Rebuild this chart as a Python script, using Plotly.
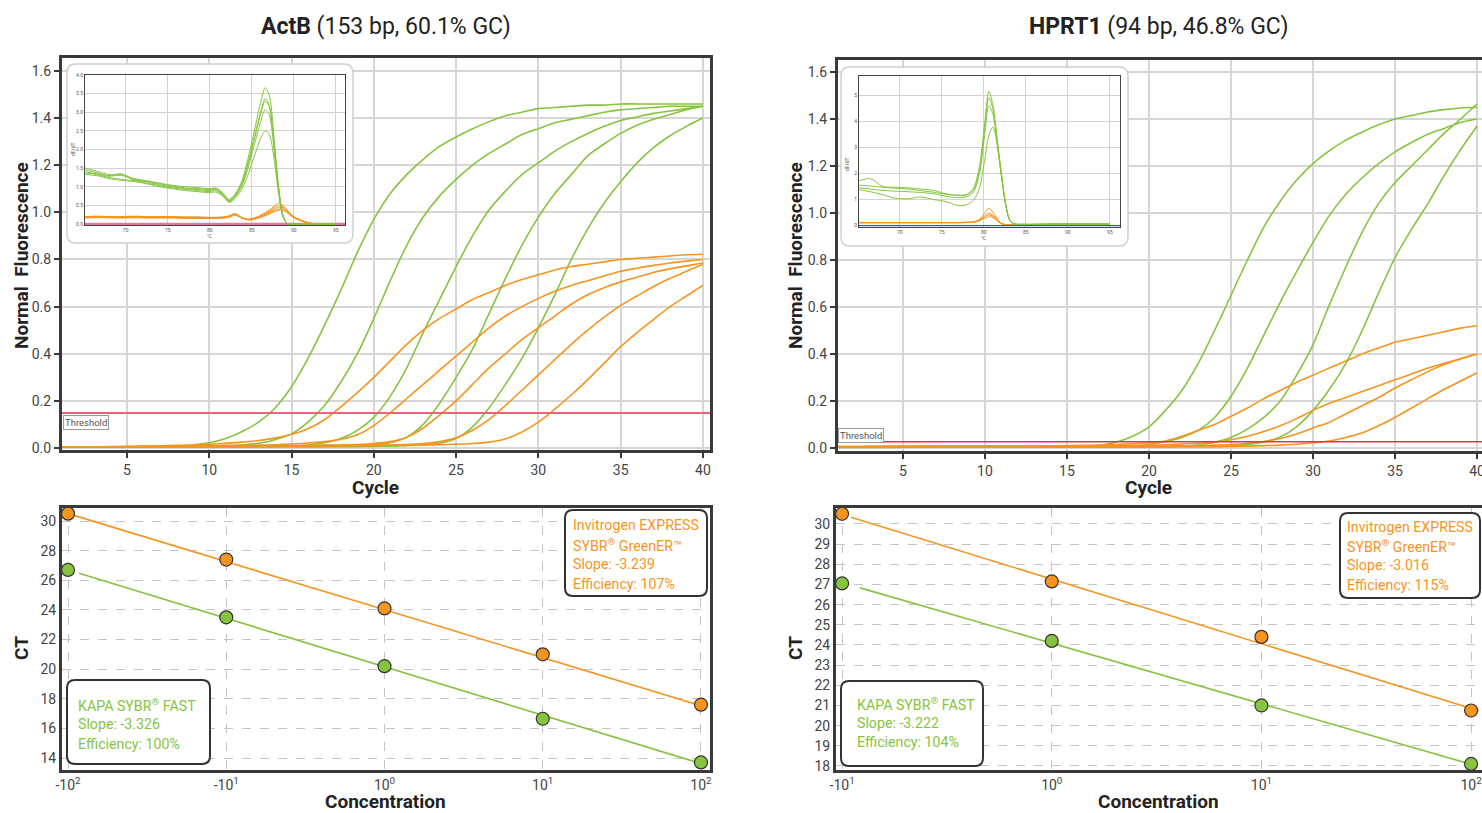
import plotly.graph_objects as go

W, H = 1482, 813

# ---------------- DATA ----------------
cycles = list(range(1, 41))

# ActB amplification curves (normalized fluorescence per cycle)
actb_kapa = [
    [0.003,0.003,0.004,0.004,0.005,0.006,0.007,0.009,0.013,0.022, 0.04,0.07,0.11,0.17,0.26,0.38,0.52,0.67,0.83,0.97,
     1.08,1.16,1.225,1.28,1.32,1.355,1.385,1.41,1.425,1.44, 1.445,1.45,1.455,1.455,1.46,1.46,1.46,1.46,1.46,1.46],
    [0.003,0.003,0.003,0.004,0.004,0.004,0.005,0.005,0.006,0.007, 0.009,0.013,0.02,0.035,0.06,0.11,0.18,0.28,0.40,0.55,
     0.71,0.86,0.98,1.07,1.14,1.20,1.25,1.29,1.33,1.355, 1.38,1.395,1.41,1.425,1.435,1.44,1.445,1.45,1.45,1.45],
    [0.003,0.003,0.003,0.003,0.004,0.004,0.004,0.004,0.005,0.005, 0.005,0.006,0.006,0.007,0.008,0.013,0.022,0.04,0.075,0.13,
     0.22,0.34,0.49,0.63,0.77,0.90,1.01,1.09,1.16,1.21, 1.26,1.30,1.335,1.365,1.39,1.405,1.42,1.43,1.44,1.45],
    [0.003,0.003,0.003,0.003,0.003,0.004,0.004,0.004,0.004,0.004, 0.005,0.005,0.005,0.005,0.006,0.006,0.007,0.008,0.01,0.013,
     0.022,0.045,0.10,0.19,0.30,0.42,0.57,0.72,0.86,0.98, 1.08,1.16,1.24,1.29,1.335,1.37,1.395,1.415,1.435,1.45],
    [0.003,0.003,0.003,0.003,0.003,0.003,0.004,0.004,0.004,0.004, 0.004,0.004,0.005,0.005,0.005,0.005,0.005,0.006,0.006,0.007,
     0.008,0.01,0.013,0.02,0.04,0.09,0.17,0.27,0.38,0.51, 0.65,0.80,0.93,1.04,1.13,1.21,1.275,1.325,1.365,1.40],
]
actb_invitrogen = [
    [0.004,0.005,0.005,0.006,0.007,0.008,0.009,0.011,0.013,0.016, 0.02,0.025,0.032,0.042,0.058,0.082,0.12,0.175,0.235,0.30,
     0.37,0.44,0.50,0.55,0.59,0.63,0.66,0.69,0.715,0.735, 0.755,0.77,0.78,0.79,0.80,0.805,0.81,0.815,0.82,0.822],
    [0.004,0.004,0.005,0.005,0.006,0.006,0.007,0.008,0.009,0.01, 0.011,0.011,0.012,0.014,0.017,0.021,0.027,0.037,0.056,0.095,
     0.15,0.21,0.27,0.33,0.39,0.45,0.51,0.56,0.60,0.635, 0.665,0.69,0.71,0.73,0.75,0.763,0.775,0.785,0.793,0.80],
    [0.004,0.004,0.004,0.005,0.005,0.006,0.006,0.007,0.007,0.008, 0.008,0.009,0.009,0.01,0.01,0.011,0.012,0.013,0.015,0.019,
     0.027,0.046,0.085,0.14,0.20,0.27,0.34,0.40,0.46,0.51, 0.56,0.61,0.65,0.68,0.705,0.725,0.745,0.76,0.773,0.785],
    [0.004,0.004,0.004,0.004,0.005,0.005,0.005,0.006,0.006,0.007, 0.007,0.008,0.008,0.009,0.009,0.01,0.01,0.011,0.011,0.012,
     0.013,0.015,0.019,0.027,0.043,0.075,0.12,0.18,0.245,0.31, 0.375,0.44,0.50,0.555,0.605,0.645,0.685,0.72,0.75,0.78],
    [0.003,0.003,0.004,0.004,0.004,0.004,0.005,0.005,0.005,0.006, 0.006,0.006,0.007,0.007,0.008,0.008,0.009,0.009,0.01,0.01,
     0.011,0.012,0.013,0.014,0.016,0.019,0.025,0.038,0.068,0.11, 0.165,0.225,0.29,0.36,0.43,0.49,0.545,0.60,0.645,0.69],
]
actb_threshold = 0.149

# HPRT1 amplification curves
hprt_kapa = [
    [0.003,0.003,0.003,0.003,0.003,0.003,0.003,0.003,0.004,0.004, 0.004,0.004,0.004,0.004,0.005,0.007,0.012,0.025,0.05,0.09,
     0.16,0.245,0.36,0.50,0.65,0.80,0.94,1.05,1.14,1.21, 1.265,1.31,1.345,1.375,1.40,1.415,1.43,1.44,1.447,1.45],
    [0.003,0.003,0.003,0.003,0.003,0.003,0.003,0.003,0.003,0.004, 0.004,0.004,0.004,0.004,0.004,0.005,0.005,0.006,0.009,0.015,
     0.027,0.045,0.075,0.13,0.22,0.34,0.48,0.62,0.75,0.875, 0.99,1.08,1.15,1.21,1.26,1.30,1.335,1.36,1.385,1.40],
    [0.003,0.003,0.003,0.003,0.003,0.003,0.003,0.003,0.003,0.003, 0.004,0.004,0.004,0.004,0.004,0.004,0.004,0.004,0.004,0.005,
     0.005,0.008,0.013,0.024,0.045,0.08,0.13,0.20,0.31,0.44, 0.61,0.77,0.92,1.04,1.13,1.20,1.27,1.34,1.40,1.465],
    [0.002,0.002,0.002,0.002,0.003,0.003,0.003,0.003,0.003,0.003, 0.003,0.003,0.003,0.004,0.004,0.004,0.004,0.004,0.004,0.004,
     0.005,0.005,0.005,0.006,0.009,0.015,0.026,0.047,0.09,0.16, 0.25,0.36,0.50,0.66,0.81,0.93,1.04,1.16,1.27,1.37],
]
hprt_invitrogen = [
    [0.006,0.006,0.007,0.007,0.007,0.008,0.008,0.008,0.008,0.009, 0.009,0.009,0.009,0.009,0.01,0.011,0.013,0.015,0.018,0.022,
     0.03,0.05,0.075,0.10,0.135,0.17,0.21,0.245,0.28,0.31, 0.34,0.37,0.40,0.425,0.45,0.465,0.48,0.495,0.51,0.52],
    [0.006,0.006,0.006,0.007,0.007,0.007,0.007,0.008,0.008,0.008, 0.008,0.008,0.008,0.008,0.008,0.008,0.008,0.009,0.01,0.012,
     0.014,0.017,0.02,0.025,0.035,0.05,0.07,0.095,0.125,0.16, 0.19,0.215,0.24,0.265,0.29,0.315,0.34,0.36,0.38,0.40],
    [0.005,0.005,0.006,0.006,0.006,0.006,0.007,0.007,0.007,0.007, 0.007,0.007,0.008,0.008,0.008,0.008,0.008,0.008,0.008,0.008,
     0.008,0.009,0.01,0.012,0.015,0.02,0.027,0.04,0.06,0.085, 0.11,0.145,0.18,0.215,0.255,0.29,0.325,0.355,0.38,0.40],
    [0.005,0.005,0.005,0.005,0.005,0.006,0.006,0.006,0.006,0.006, 0.006,0.006,0.006,0.007,0.007,0.007,0.007,0.007,0.007,0.007,
     0.007,0.007,0.007,0.007,0.007,0.008,0.01,0.012,0.016,0.022, 0.03,0.045,0.065,0.095,0.13,0.17,0.21,0.25,0.285,0.32],
]
hprt_threshold = 0.027

# Melt curves (dF/dT vs temperature)
actb_melt_temp = [65.2, 66.5, 68, 69.5, 71, 72.5, 74, 75.5, 77, 78.5, 80, 80.7, 81.5, 82.3, 83, 83.8, 84.6,
                  85.4, 86.1, 86.6, 87.1, 87.7, 88.2, 88.7, 89.2, 90, 92, 95]
actb_melt_kapa = [
    [1.50,1.42,1.33,1.30,1.22,1.16,1.10,1.04,1.00,0.98,0.95,0.97,0.85,0.66,0.80,1.14,1.80,2.60,3.30,3.66,3.45,2.20,1.00,0.25,0.02,0.0,0.0,0.0],
    [1.45,1.38,1.30,1.35,1.20,1.15,1.08,1.02,0.97,0.95,0.92,0.95,0.82,0.63,0.77,1.08,1.68,2.42,3.05,3.37,3.18,2.05,0.95,0.23,0.02,0.0,0.0,0.0],
    [1.40,1.35,1.28,1.32,1.18,1.13,1.06,1.00,0.95,0.93,0.90,0.93,0.80,0.62,0.75,1.05,1.63,2.36,2.98,3.30,3.12,2.02,0.93,0.23,0.02,0.0,0.0,0.0],
    [1.37,1.33,1.25,1.20,1.16,1.10,1.03,0.97,0.93,0.90,0.87,0.90,0.78,0.60,0.72,1.00,1.53,2.20,2.78,3.07,2.92,1.92,0.90,0.22,0.02,0.0,0.0,0.0],
    [1.33,1.30,1.22,1.17,1.14,1.08,1.00,0.95,0.90,0.87,0.84,0.86,0.76,0.58,0.68,0.92,1.35,1.88,2.32,2.50,2.40,1.68,0.82,0.21,0.02,0.0,0.0,0.0],
]
actb_melt_invitrogen = [
    [0.20,0.21,0.20,0.20,0.21,0.20,0.20,0.20,0.19,0.19,0.18,0.18,0.19,0.22,0.28,0.18,0.13,0.17,0.24,0.30,0.38,0.48,0.56,0.50,0.38,0.20,0.02,0.0],
    [0.19,0.20,0.19,0.19,0.20,0.19,0.19,0.19,0.18,0.18,0.17,0.17,0.18,0.21,0.27,0.17,0.12,0.16,0.22,0.28,0.35,0.44,0.50,0.47,0.36,0.19,0.02,0.0],
    [0.18,0.19,0.18,0.18,0.19,0.18,0.18,0.18,0.17,0.17,0.16,0.16,0.17,0.20,0.26,0.17,0.12,0.15,0.21,0.26,0.32,0.40,0.45,0.44,0.34,0.18,0.02,0.0],
    [0.17,0.18,0.17,0.17,0.18,0.17,0.17,0.17,0.16,0.16,0.15,0.15,0.16,0.19,0.25,0.16,0.11,0.14,0.19,0.24,0.29,0.36,0.40,0.40,0.32,0.17,0.02,0.0],
    [0.16,0.17,0.17,0.16,0.17,0.16,0.16,0.16,0.15,0.15,0.15,0.15,0.16,0.18,0.24,0.16,0.11,0.13,0.18,0.22,0.27,0.33,0.37,0.37,0.31,0.17,0.02,0.0],
]
hprt_melt_temp = [65.2, 66.5, 68, 69.5, 71, 72.5, 74, 75.5, 77, 78, 78.8, 79.5, 80.1, 80.6, 81.1, 81.6,
                  82.1, 82.6, 83.1, 83.6, 85, 90, 95]
hprt_melt_kapa = [
    [1.72,1.80,1.50,1.47,1.45,1.40,1.35,1.22,1.17,1.20,1.45,2.30,3.90,5.15,4.60,3.30,2.00,0.85,0.20,0.07,0.05,0.07,0.06],
    [1.55,1.52,1.47,1.43,1.40,1.34,1.28,1.20,1.15,1.17,1.38,2.15,3.70,4.90,4.45,3.20,1.95,0.82,0.20,0.07,0.05,0.07,0.06],
    [1.45,1.40,1.35,1.32,1.30,1.27,1.22,1.12,1.07,1.10,1.30,2.00,3.45,4.60,4.25,3.10,1.90,0.80,0.20,0.07,0.05,0.07,0.06],
    [1.38,1.30,1.18,1.05,1.03,1.10,1.00,0.92,0.77,0.80,0.98,1.45,2.50,3.45,3.78,3.10,1.90,0.80,0.20,0.07,0.05,0.07,0.06],
]
hprt_melt_invitrogen = [
    [0.12,0.12,0.12,0.12,0.12,0.12,0.12,0.12,0.12,0.13,0.15,0.25,0.48,0.66,0.52,0.27,0.09,0.04,0.03,0.03,0.03,0.03,0.03],
    [0.12,0.12,0.12,0.12,0.12,0.12,0.12,0.12,0.12,0.13,0.14,0.22,0.38,0.47,0.40,0.22,0.08,0.04,0.03,0.03,0.03,0.03,0.03],
    [0.11,0.11,0.11,0.11,0.11,0.11,0.11,0.11,0.11,0.12,0.13,0.20,0.34,0.41,0.36,0.20,0.07,0.04,0.03,0.03,0.03,0.03,0.03],
    [0.11,0.11,0.11,0.11,0.11,0.11,0.11,0.11,0.11,0.12,0.13,0.18,0.29,0.34,0.31,0.18,0.07,0.04,0.03,0.03,0.03,0.03,0.03],
]
melt_baseline = 0.0

# Standard curves
actb_conc_ticks = ["-10<sup>2</sup>", "-10<sup>1</sup>", "10<sup>0</sup>", "10<sup>1</sup>", "10<sup>2</sup>"]
actb_conc_pos = [0, 1, 2, 3, 4]
actb_ct_invitrogen = [30.5, 27.4, 24.1, 21.0, 17.6]
actb_ct_kapa = [26.7, 23.5, 20.2, 16.65, 13.7]
actb_fit_inv_x, actb_fit_inv_y = [0.0, 4.0], [30.5, 17.53]
actb_fit_kapa_x, actb_fit_kapa_y = [0.07, 4.0], [26.47, 13.62]

hprt_conc_ticks = ["-10<sup>1</sup>", "10<sup>0</sup>", "10<sup>1</sup>", "10<sup>2</sup>"]
hprt_conc_pos = [0, 1, 2, 3]
hprt_ct_invitrogen = [30.5, 27.15, 24.4, 20.75]
hprt_ct_kapa = [27.05, 24.2, 21.0, 18.1]
hprt_fit_inv_x, hprt_fit_inv_y = [0.043, 3.036], [30.33, 20.74]
hprt_fit_kapa_x, hprt_fit_kapa_y = [0.086, 3.0], [26.83, 18.08]

actb_inv_lines = ["Invitrogen EXPRESS", "SYBR<sup>®</sup> GreenER™", "Slope: -3.239", "Efficiency: 107%"]
actb_kapa_lines = ["KAPA SYBR<sup>®</sup> FAST", "Slope: -3.326", "Efficiency: 100%"]
hprt_inv_lines = ["Invitrogen EXPRESS", "SYBR<sup>®</sup> GreenER™", "Slope: -3.016", "Efficiency: 115%"]
hprt_kapa_lines = ["KAPA SYBR<sup>®</sup> FAST", "Slope: -3.222", "Efficiency: 104%"]

# ---------------- STYLE ----------------
GREEN = "#86c440"
ORANGE = "#f7941d"
GRID = "#d6d6d6"
DARK = "#3a3a3a"
TICK = "Roboto, Arial, sans-serif"
COND = "Roboto, Arial, sans-serif"


def dx(p):
    return p / W


def dy(p):
    return 1 - p / H


# axis geometry in pixels: (x0, x1, ytop, ybottom), ranges
G = {
    "": dict(px=(62, 710, 58, 450), xr=[1.05, 40.43], yr=[-0.0085, 1.655]),
    "2": dict(px=(838, 1482, 60, 451), xr=[1.04, 40.3], yr=[-0.0128, 1.651]),
    "3": dict(px=(62, 710, 508, 770), xr=[-0.038, 4.057], yr=[13.19, 30.88]),
    "4": dict(px=(836, 1482, 508, 770), xr=[-0.029, 3.052], yr=[17.8, 30.79]),
    "5": dict(px=(85, 345, 75, 225), xr=[65.16, 96.1], yr=[-0.027, 4.0]),
    "6": dict(px=(859, 1120, 75.7, 226.7), xr=[65.16, 96.2], yr=[-0.04, 5.74]),
}


def conv(key):
    g = G[key]
    x0, x1, yt, yb = g["px"]
    xr, yr = g["xr"], g["yr"]
    fx = lambda p: xr[0] + (p - x0) / (x1 - x0) * (xr[1] - xr[0])
    fy = lambda p: yr[0] + (yb - p) / (yb - yt) * (yr[1] - yr[0])
    return fx, fy


def rounded(key, px0, py0, px1, py1, r):
    X, Y = conv(key)
    return (f"M {X(px0+r)},{Y(py0)} L {X(px1-r)},{Y(py0)} Q {X(px1)},{Y(py0)} {X(px1)},{Y(py0+r)} "
            f"L {X(px1)},{Y(py1-r)} Q {X(px1)},{Y(py1)} {X(px1-r)},{Y(py1)} "
            f"L {X(px0+r)},{Y(py1)} Q {X(px0)},{Y(py1)} {X(px0)},{Y(py1-r)} "
            f"L {X(px0)},{Y(py0+r)} Q {X(px0)},{Y(py0)} {X(px0+r)},{Y(py0)} Z")


fig = go.Figure()


def line(x, y, color, key, width=1.6, smooth=True):
    fig.add_trace(go.Scatter(
        x=x, y=y, mode="lines",
        line=dict(color=color, width=width, shape="spline" if smooth else "linear", smoothing=0.8),
        xaxis="x" + key, yaxis="y" + key, showlegend=False, hoverinfo="skip"))


# amplification plots
for ys in actb_kapa:
    line(cycles, ys, GREEN, "")
for ys in actb_invitrogen:
    line(cycles, ys, ORANGE, "")
line(G[""]["xr"], [actb_threshold, actb_threshold], "#f0607a", "", width=2, smooth=False)

for ys in hprt_kapa:
    line(cycles, ys, GREEN, "2")
for ys in hprt_invitrogen:
    line(cycles, ys, ORANGE, "2")
line(G["2"]["xr"], [hprt_threshold, hprt_threshold], "#e8304a", "2", width=1.5, smooth=False)

# melt insets
line(G["5"]["xr"], [melt_baseline, melt_baseline], "#e37a95", "5", width=2.5, smooth=False)
for ys in actb_melt_invitrogen:
    line(actb_melt_temp, ys, ORANGE, "5", width=1)
for ys in actb_melt_kapa:
    line(actb_melt_temp, ys, GREEN, "5", width=1)

for ys in hprt_melt_invitrogen:
    line(hprt_melt_temp, ys, ORANGE, "6", width=1)
for ys in hprt_melt_kapa:
    line(hprt_melt_temp, ys, GREEN, "6", width=1)
line(G["6"]["xr"], [melt_baseline, melt_baseline], "#2a5caa", "6", width=1.2, smooth=False)


# standard curves
def std(key, fx, fy, px, py, color):
    line(fx, fy, color, key, width=1.6, smooth=False)
    fig.add_trace(go.Scatter(
        x=px, y=py, mode="markers",
        marker=dict(size=13, color=color, line=dict(color="#333", width=1.2)),
        xaxis="x" + key, yaxis="y" + key, showlegend=False, hoverinfo="skip"))


std("3", actb_fit_inv_x, actb_fit_inv_y, actb_conc_pos, actb_ct_invitrogen, ORANGE)
std("3", actb_fit_kapa_x, actb_fit_kapa_y, actb_conc_pos, actb_ct_kapa, GREEN)
std("4", hprt_fit_inv_x, hprt_fit_inv_y, hprt_conc_pos, hprt_ct_invitrogen, ORANGE)
std("4", hprt_fit_kapa_x, hprt_fit_kapa_y, hprt_conc_pos, hprt_ct_kapa, GREEN)

# ---------------- AXES ----------------
layout = dict(
    width=W, height=H, margin=dict(l=0, r=0, t=0, b=0, autoexpand=False),
    paper_bgcolor="white", plot_bgcolor="white", showlegend=False,
)


def axes(key, xkw, ykw):
    g = G[key]
    x0, x1, yt, yb = g["px"]
    xa = dict(domain=[dx(x0), min(1.0, dx(x1))], range=g["xr"], anchor="y" + key,
              zeroline=False, showgrid=True, fixedrange=True, automargin=False)
    ya = dict(domain=[dy(yb), dy(yt)], range=g["yr"], anchor="x" + key,
              zeroline=False, showgrid=True, fixedrange=True, automargin=False)
    xa.update(xkw)
    ya.update(ykw)
    layout["xaxis" + key] = xa
    layout["yaxis" + key] = ya


main_common = dict(gridcolor=GRID, gridwidth=1.5, showline=True, linecolor=DARK, linewidth=3,
                   ticks="outside", ticklen=5, tickwidth=1.5, tickcolor=DARK,
                   tickfont=dict(family=TICK, size=14, color="#444"), ticklabeloverflow="allow")
cyc_ticks = dict(tickmode="array", tickvals=[5, 10, 15, 20, 25, 30, 35, 40])
fl_ticks = dict(tickmode="array", tickvals=[0, 0.2, 0.4, 0.6, 0.8, 1.0, 1.2, 1.4, 1.6], tickformat=".1f")

axes("", dict(main_common, mirror=True, **cyc_ticks), dict(main_common, mirror=True, **fl_ticks))
axes("2", dict(main_common, mirror=True, **cyc_ticks), dict(main_common, mirror=False, **fl_ticks))

std_common = dict(gridcolor="#c4c4c4", gridwidth=1, griddash="dash", showline=True, linecolor=DARK,
                  linewidth=3, ticks="", tickfont=dict(family=TICK, size=14, color="#444"),
                  ticklabeloverflow="allow")
axes("3", dict(std_common, mirror=True, tickmode="array", tickvals=actb_conc_pos, ticktext=actb_conc_ticks),
     dict(std_common, mirror=True, tickmode="array", tickvals=list(range(14, 31, 2))))
axes("4", dict(std_common, mirror=True, tickmode="array", tickvals=hprt_conc_pos, ticktext=hprt_conc_ticks),
     dict(std_common, mirror=False, tickmode="array", tickvals=list(range(18, 31))))

ins_common = dict(gridcolor="#d2d2d2", gridwidth=1, showline=True, linecolor="#444", linewidth=1,
                  mirror=True, ticks="", tickfont=dict(family=TICK, size=5, color="#555"))
axes("5", dict(ins_common, tickmode="array", tickvals=[70, 75, 80, 85, 90, 95]),
     dict(ins_common, tickmode="array", tickvals=[0, 0.5, 1, 1.5, 2, 2.5, 3, 3.5, 4], tickformat=".1f"))
axes("6", dict(ins_common, tickmode="array", tickvals=[70, 75, 80, 85, 90, 95]),
     dict(ins_common, tickmode="array", tickvals=[0, 1, 2, 3, 4, 5]))

fig.update_layout(**layout)

# ---------------- SHAPES ----------------
shapes = []
shapes.append(dict(type="path", xref="x", yref="y", layer="between",
                   path=rounded("", 67, 64, 353, 243, 9),
                   fillcolor="white", line=dict(color="#cfcfcf", width=1.5)))
shapes.append(dict(type="path", xref="x2", yref="y2", layer="between",
                   path=rounded("2", 841, 67, 1128, 246, 9),
                   fillcolor="white", line=dict(color="#cfcfcf", width=1.5)))
for key, box in [("3", (565, 510, 707, 596)), ("3", (67, 680, 210, 764)),
                 ("4", (1340, 513, 1480, 598)), ("4", (841, 681, 983, 766))]:
    shapes.append(dict(type="path", xref="x" + key, yref="y" + key, layer="between",
                       path=rounded(key, *box, 8),
                       fillcolor="white", line=dict(color="#333", width=2)))
fig.update_layout(shapes=shapes)

# ---------------- ANNOTATIONS ----------------
ann = []


def text(s, px, py, size, color="#222", family=COND, angle=0, xanchor="center", yanchor="middle", **kw):
    d = dict(text=s, x=dx(px), y=dy(py), xref="paper", yref="paper", showarrow=False,
             font=dict(family=family, size=size, color=color), textangle=angle,
             xanchor=xanchor, yanchor=yanchor, align="left")
    d.update(kw)
    ann.append(d)


text("<b>ActB</b> (153 bp, 60.1% GC)", 386, 26, 23)
text("<b>HPRT1</b> (94 bp, 46.8% GC)", 1159, 26, 23)
for xo in (0, 774):
    text("<b>Normal  Fluorescence</b>", 22 + xo, 256, 19, angle=-90)
    text("<b>CT</b>", 21 + xo, 648, 19, angle=-90)
text("<b>Cycle</b>", 375, 487, 19)
text("<b>Cycle</b>", 1148, 487, 19)
text("<b>Concentration</b>", 385, 801, 19)
text("<b>Concentration</b>", 1158, 801, 19)

text("Threshold", 63, 422.5, 9.5, color="#555", family=TICK, xanchor="left",
     bordercolor="#999", borderwidth=1, borderpad=1, bgcolor="white")
text("Threshold", 838, 435, 9.5, color="#555", family=TICK, xanchor="left",
     bordercolor="#999", borderwidth=1, borderpad=1, bgcolor="white")

text("dF/dT", 73, 150, 5, color="#555", family=TICK, angle=-90)
text("°C", 210, 236, 5, color="#555", family=TICK)
text("dF/dT", 847, 165, 5, color="#555", family=TICK, angle=-90)
text("°C", 984, 238, 5, color="#555", family=TICK)


def box_text(lines, px, py0, step, color):
    for i, s in enumerate(lines):
        text(s, px, py0 + i * step, 14.2, color=color, xanchor="left")


box_text(actb_inv_lines, 571, 525, 19.5, ORANGE)
box_text(actb_kapa_lines, 76, 705, 19.3, GREEN)
box_text(hprt_inv_lines, 1345, 527, 19.2, ORANGE)
box_text(hprt_kapa_lines, 855, 704, 19.2, GREEN)

fig.update_layout(annotations=ann)

fig.write_html("out.html", config={"displayModeBar": False},
               post_script="document.body.style.margin='0px';")
